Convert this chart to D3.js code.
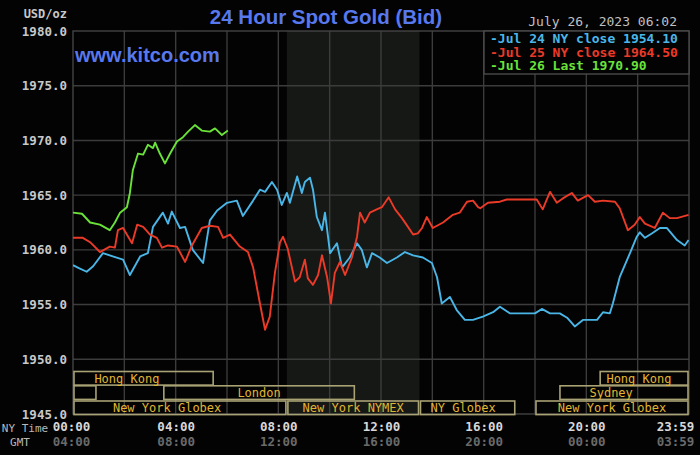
<!DOCTYPE html>
<html>
<head>
<meta charset="utf-8">
<script src="https://cdn.jsdelivr.net/npm/d3@7"></script>
<style>
  html, body { margin: 0; padding: 0; background: #000; }
  svg { display: block; }
</style>
</head>
<body>
<svg id="chart" width="700" height="455"></svg>
<script>
// ---------------- DATA ----------------
const yTicks = [1945, 1950, 1955, 1960, 1965, 1970, 1975, 1980];
const xTicks = [0, 4, 8, 12, 16, 20, 24];
const nyLabels = ["00:00", "04:00", "08:00", "12:00", "16:00", "20:00", "23:59"];
const gmtLabels = ["04:00", "08:00", "12:00", "16:00", "20:00", "00:00", "03:59"];

const legendLabels = ["Jul 24 NY close 1954.10", "Jul 25 NY close 1964.50", "Jul 26 Last 1970.90"];

// [NY time, bid]
const jul24 = [
  ["0:00",1958.6],["0:15",1958.3],["0:32",1958.0],["0:47",1958.5],["1:10",1959.7],["1:33",1959.4],
  ["1:57",1959.1],["2:13",1957.7],["2:37",1959.4],["2:55",1959.7],["3:07",1962.1],["3:30",1963.4],
  ["3:42",1962.4],["3:51",1963.5],["4:10",1962.0],["4:22",1962.1],["4:40",1960.0],["5:04",1958.8],
  ["5:20",1962.7],["5:37",1963.6],["6:00",1964.3],["6:23",1964.5],["6:37",1963.1],["7:01",1964.5],
  ["7:17",1965.5],["7:29",1965.3],["7:45",1966.2],["7:57",1965.5],["8:08",1964.1],["8:20",1965.2],
  ["8:27",1964.3],["8:44",1966.7],["8:55",1965.2],["9:02",1966.2],["9:14",1966.6],["9:21",1965.5],
  ["9:30",1963.0],["9:42",1961.8],["9:49",1963.4],["10:01",1959.7],["10:17",1960.6],["10:29",1958.4],
  ["10:47",1959.3],["11:04",1960.6],["11:15",1960.0],["11:27",1958.4],["11:39",1959.7],["11:57",1959.3],
  ["12:14",1958.8],["12:37",1959.3],["12:56",1959.8],["13:15",1959.5],["13:38",1959.3],["13:59",1958.8],
  ["14:11",1957.5],["14:22",1955.1],["14:41",1955.7],["14:57",1954.5],["15:16",1953.6],["15:35",1953.6],
  ["15:58",1953.9],["16:22",1954.3],["16:38",1954.8],["17:01",1954.2],["18:00",1954.2],["18:16",1954.6],
  ["18:35",1954.2],["18:58",1954.2],["19:15",1953.8],["19:33",1953.0],["19:52",1953.6],["20:25",1953.6],
  ["20:39",1954.3],["20:55",1954.2],["21:02",1955.1],["21:18",1957.5],["21:42",1959.7],["21:58",1961.2],
  ["22:05",1961.6],["22:17",1961.1],["22:33",1961.5],["22:52",1962.0],["23:08",1962.0],["23:32",1960.9],
  ["23:50",1960.4],["23:59",1960.9]
];

const jul25 = [
  ["0:00",1961.1],["0:23",1961.1],["0:40",1960.7],["1:03",1959.8],["1:26",1960.3],["1:38",1960.2],
  ["1:45",1961.8],["1:57",1962.0],["2:09",1961.2],["2:18",1960.6],["2:30",1962.3],["2:44",1962.1],
  ["3:00",1961.4],["3:16",1961.1],["3:28",1960.2],["3:42",1960.4],["4:03",1960.3],["4:22",1958.9],
  ["4:38",1960.4],["5:01",1962.0],["5:20",1962.2],["5:39",1962.1],["5:51",1961.1],["6:07",1961.4],
  ["6:30",1960.3],["6:49",1959.8],["7:01",1958.4],["7:17",1955.1],["7:29",1952.7],["7:40",1953.9],
  ["7:52",1957.9],["8:04",1960.7],["8:11",1961.2],["8:22",1960.1],["8:39",1957.1],["8:50",1957.5],
  ["9:02",1959.1],["9:09",1957.4],["9:21",1956.8],["9:33",1957.7],["9:42",1959.5],["9:54",1957.5],
  ["10:03",1955.1],["10:12",1957.9],["10:24",1958.9],["10:36",1957.7],["10:52",1959.3],["11:04",1961.2],
  ["11:11",1963.4],["11:22",1962.5],["11:34",1963.4],["11:50",1963.7],["12:02",1963.9],["12:18",1964.8],
  ["12:33",1963.7],["12:49",1962.9],["13:03",1962.1],["13:15",1961.4],["13:26",1961.5],["13:36",1962.0],
  ["13:47",1963.0],["14:01",1962.0],["14:25",1962.5],["14:48",1963.2],["15:04",1963.4],["15:21",1964.4],
  ["15:35",1964.5],["15:47",1963.9],["15:52",1963.8],["16:10",1964.3],["16:38",1964.4],["16:54",1964.6],
  ["18:04",1964.6],["18:18",1963.7],["18:35",1965.3],["18:51",1964.3],["19:05",1964.7],["19:26",1965.2],
  ["19:40",1964.5],["20:04",1965.0],["20:20",1964.4],["20:39",1964.5],["21:07",1964.4],["21:18",1963.8],
  ["21:37",1961.8],["21:53",1962.3],["22:05",1963.0],["22:17",1962.4],["22:40",1962.0],["22:59",1963.4],
  ["23:15",1962.9],["23:32",1962.9],["23:59",1963.2]
];

const jul26 = [
  ["0:00",1963.4],["0:21",1963.3],["0:40",1962.5],["1:03",1962.3],["1:26",1961.8],["1:38",1962.5],
  ["1:50",1963.4],["2:06",1963.9],["2:13",1965.2],["2:20",1967.3],["2:32",1968.8],["2:44",1968.7],
  ["2:55",1969.6],["3:07",1969.3],["3:12",1969.8],["3:23",1968.8],["3:35",1967.9],["3:47",1968.8],
  ["4:03",1969.9],["4:17",1970.3],["4:29",1970.8],["4:45",1971.4],["5:01",1970.9],["5:20",1970.8],
  ["5:32",1971.1],["5:48",1970.5],["6:02",1970.9]
];

// NY NYMEX session shading
const nymexHours = ["8:20", "13:30"];

// market sessions: [label, row, start, end, label centre]
const sessions = [
  ["Hong Kong", 0, "0:00", "5:30", "2:06"],
  ["", 1, "0:00", "0:56", "0:28"],
  ["London", 1, "3:30", "11:00", "7:15"],
  ["New York Globex", 2, "0:00", "8:20", "3:40"],
  ["New York NYMEX", 2, "8:20", "13:30", "10:55"],
  ["NY Globex", 2, "13:30", "17:15", "15:12"],
  ["New York Globex", 2, "18:00", "24:00", "21:00"],
  ["Sydney", 1, "18:56", "24:00", "20:58"],
  ["Hong Kong", 0, "20:30", "24:00", "22:03"]
];

// ---------------- DRAWING ----------------
const hours = s => { const [h, m] = s.split(":").map(Number); return h + m / 60; };

const svg = d3.select("#chart");
const pLeft = 73, pRight = 689, pTop = 31, pBottom = 414;
const x = d3.scaleLinear().domain([0, 24]).range([pLeft, pRight]);
const y = d3.scaleLinear().domain([1945, 1980]).range([pBottom, pTop]);

const mono = "'DejaVu Sans Mono', 'Liberation Mono', monospace";
const sans = "Arial, 'Liberation Sans', Helvetica, sans-serif";

svg.append("rect").attr("width", 700).attr("height", 455).attr("fill", "#030303");

// shaded NYMEX band
svg.append("rect")
  .attr("x", x(hours(nymexHours[0]))).attr("y", pTop)
  .attr("width", x(hours(nymexHours[1])) - x(hours(nymexHours[0])))
  .attr("height", pBottom - pTop)
  .attr("fill", "#151815");

// grid
const grid = svg.append("g").attr("stroke", "#3c3c3c").attr("stroke-width", 1.4);
grid.selectAll("line.v").data(d3.range(2, 24, 2)).join("line").attr("class", "v")
  .attr("x1", d => x(d)).attr("x2", d => x(d)).attr("y1", pTop).attr("y2", pBottom);
grid.selectAll("line.h").data(yTicks.slice(1, -1)).join("line").attr("class", "h")
  .attr("x1", pLeft).attr("x2", pRight).attr("y1", d => y(d)).attr("y2", d => y(d));

// plot border
svg.append("rect").attr("x", pLeft).attr("y", pTop).attr("width", pRight - pLeft).attr("height", pBottom - pTop)
  .attr("fill", "none").attr("stroke", "#444").attr("stroke-width", 1.4);

// lines
svg.append("clipPath").attr("id", "clip").append("rect")
  .attr("x", pLeft).attr("y", pTop).attr("width", pRight - pLeft).attr("height", pBottom - pTop);
const line = d3.line().x(d => x(hours(d[0]))).y(d => y(d[1]));
const series = [
  { data: jul24, color: "#4ab6e8" },
  { data: jul25, color: "#ec3a28" },
  { data: jul26, color: "#6ae23a" }
];
const lg = svg.append("g").attr("clip-path", "url(#clip)");
series.forEach(s => {
  lg.append("path").datum(s.data).attr("d", line)
    .attr("fill", "none").attr("stroke", s.color).attr("stroke-width", 1.9)
    .attr("stroke-linejoin", "round");
});

// market sessions
const rowTop = [371.5, 385.8, 401];
const rowH = 13.6;
const sg = svg.append("g");
sessions.forEach(s => {
  const x0 = x(hours(s[2])), x1 = x(hours(s[3]));
  sg.append("rect").attr("x", x0 + 1).attr("y", rowTop[s[1]])
    .attr("width", Math.max(0, x1 - x0 - 2)).attr("height", rowH)
    .attr("fill", "none").attr("stroke", "#a8a274").attr("stroke-width", 1.6);
  if (s[0]) {
    sg.append("text").attr("x", x(hours(s[4]))).attr("y", rowTop[s[1]] + rowH / 2 + 4.3)
      .attr("text-anchor", "middle").attr("fill", "#e2b633")
      .style("font-family", mono).style("font-size", "12px").text(s[0]);
  }
});

// y axis
const yAxis = svg.append("g").attr("transform", `translate(${pLeft},0)`)
  .call(d3.axisLeft(y).tickValues(yTicks).tickFormat(d3.format(".1f")).tickSize(0).tickPadding(6));
yAxis.select(".domain").remove();
yAxis.selectAll("text").attr("fill", "#c8c8c8")
  .style("font-family", mono).style("font-size", "12.5px").style("font-weight", "bold");

svg.append("text").attr("x", 67).attr("y", 18).attr("text-anchor", "end")
  .attr("fill", "#c8c8c8").style("font-family", mono).style("font-size", "12px").style("font-weight", "bold")
  .text("USD/oz");

// x axes
function xAxisRow(labels, yPos, color) {
  const g = svg.append("g").attr("transform", `translate(0,${yPos})`)
    .call(d3.axisBottom(x).tickValues(xTicks).tickFormat((d, i) => labels[i]).tickSize(0).tickPadding(0));
  g.select(".domain").remove();
  g.selectAll("text").attr("fill", color)
    .style("font-family", mono).style("font-size", "12.5px").style("font-weight", "bold");
  g.selectAll(".tick").filter(d => d === 24).select("text").attr("dx", -14);
  g.selectAll(".tick").filter(d => d === 0).select("text").attr("dx", -2);
  return g;
}
xAxisRow(nyLabels, 422, "#d8d8d8");
xAxisRow(gmtLabels, 437, "#6a6a6a");

svg.append("text").attr("x", 25).attr("y", 432).attr("text-anchor", "middle")
  .attr("fill", "#b8b8b8").style("font-family", mono).style("font-size", "11px").text("NY Time");
svg.append("text").attr("x", 20).attr("y", 446).attr("text-anchor", "middle")
  .attr("fill", "#b8b8b8").style("font-family", mono).style("font-size", "11px").text("GMT");

// titles
svg.append("text").attr("x", 326).attr("y", 24).attr("text-anchor", "middle")
  .attr("fill", "#5878ee").style("font-family", sans).style("font-size", "20.5px").style("font-weight", "bold")
  .text("24 Hour Spot Gold (Bid)");
svg.append("text").attr("x", 75).attr("y", 62)
  .attr("fill", "#5878ee").style("font-family", sans).style("font-size", "20px").style("font-weight", "bold")
  .text("www.kitco.com");
svg.append("text").attr("x", 677).attr("y", 26).attr("text-anchor", "end")
  .attr("fill", "#c0c0c0").style("font-family", mono).style("font-size", "13px")
  .text("July 26, 2023 06:02");

// legend
const legend = svg.append("g");
legend.append("rect").attr("x", 484).attr("y", pTop).attr("width", pRight - 484).attr("height", 43)
  .attr("fill", "#030303").attr("stroke", "#4a4a4a").attr("stroke-width", 1.4);
legendLabels.forEach((t, i) => {
  legend.append("text").attr("x", 490).attr("y", 43 + i * 13.5)
    .attr("fill", series[i].color).style("font-family", mono).style("font-size", "13px")
    .style("font-weight", "bold")
    .text("-" + t);
});
</script>
</body>
</html>
